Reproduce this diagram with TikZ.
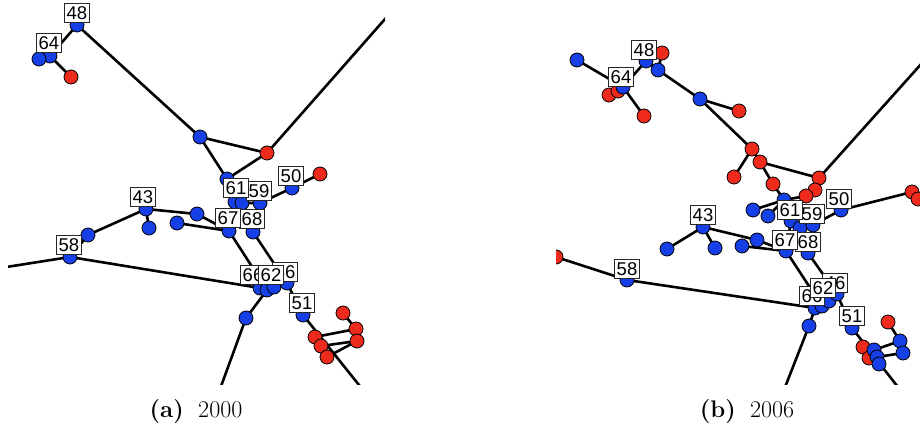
\documentclass[tikz,border=0pt]{standalone}
\usepackage{fontspec}
\newfontfamily\labelfont{Liberation Sans}
\definecolor{nodeblue}{RGB}{22,64,230}
\definecolor{nodered}{RGB}{238,42,28}

\begin{document}
\begin{tikzpicture}[x=1pt,y=-1pt,
		edge/.style={line width=2.6pt},
		bdot/.style={circle,draw=black,fill=nodeblue,line width=0.8pt,inner sep=0pt,minimum size=14pt},
		rdot/.style={bdot,fill=nodered},
		lbl/.style={draw=black!85,fill=white,line width=0.9pt,inner xsep=2.4pt,inner ysep=2.6pt,
			font=\labelfont\fontsize{18.5}{19}\selectfont},
		captext/.style={font=\fontsize{24}{28}\selectfont,anchor=base}]
	\useasboundingbox (0,0) rectangle (920,427);
	% panel (a), 2000
	\begin{scope}
		\clip (8,0) rectangle (385,384);
		% points
		\coordinate (a48) at (77,25);
		\coordinate (a64) at (50,56);
		\coordinate (a64b) at (39,59);
		\coordinate (a64r) at (71,77);
		\coordinate (aT) at (200,137);
		\coordinate (aTr) at (267,153);
		\coordinate (aNE) at (400,2);
		\coordinate (a61) at (227,179);
		\coordinate (a61b) at (235,202);
		\coordinate (a61c) at (242,203);
		\coordinate (a59) at (260,203);
		\coordinate (a50) at (292,188);
		\coordinate (a50r) at (320,174);
		\coordinate (a43) at (146,209);
		\coordinate (a43d) at (149,228);
		\coordinate (a43l) at (88,235);
		\coordinate (a43r) at (197,214);
		\coordinate (a67l) at (177,223);
		\coordinate (a67) at (229,231);
		\coordinate (a68) at (253,232);
		\coordinate (a58) at (70,257);
		\coordinate (aW) at (0,268);
		\coordinate (a66) at (260,288);
		\coordinate (a62) at (267,290);
		\coordinate (a62b) at (274,287);
		\coordinate (a46) at (287,283);
		\coordinate (a51) at (303,315);
		\coordinate (aS1) at (371,400);
		\coordinate (a62d) at (246,318);
		\coordinate (aS2) at (216,400);
		\coordinate (ar1) at (343,313);
		\coordinate (ar2) at (356,329);
		\coordinate (ar3) at (357,341);
		\coordinate (ar4) at (315,337);
		\coordinate (ar5) at (321,346);
		\coordinate (ar6) at (327,357);
		% links
		\draw[edge] (a48) -- (a64) -- (a64r);
		\draw[edge] (a64b) -- (a64);
		\draw[edge] (a48) -- (aT) -- (aTr) -- (aNE);
		\draw[edge] (aT) -- (a61) -- (aTr);
		\draw[edge] (a61) -- (a61b) -- (a67);
		\draw[edge] (a61) -- (a61c) -- (a68);
		\draw[edge] (a61c) -- (a59) -- (a50) -- (a50r);
		\draw[edge] (a43l) -- (a43) -- (a43d);
		\draw[edge] (a43) -- (a43r) -- (a67);
		\draw[edge] (a67l) -- (a67);
		\draw[edge] (aW) -- (a58) -- (a43l);
		\draw[edge] (a58) -- (a66);
		\draw[edge] (a67) -- (a62);
		\draw[edge] (a68) -- (a46) -- (a51) -- (aS1);
		\draw[edge] (a62) -- (a62d) -- (aS2);
		\draw[edge] (ar1) -- (ar2) -- (ar3);
		\draw[edge] (ar4) -- (ar2);
		\draw[edge] (ar5) -- (ar3) -- (ar6);
		% dots
		\foreach \p in {a48,a64,a64b,aT,a61,a61b,a61c,a59,a50,a43,a43d,a43l,a43r,a67l,a67,a68,a58,a66,a62,a62b,a46,a51,a62d}
			\node[bdot] (d\p) at (\p) {};
		\foreach \p in {a64r,aTr,a50r,ar1,ar2,ar3,ar4,ar5,ar6}
			\node[rdot] (d\p) at (\p) {};
	\end{scope}
	% labels (a)
	\node[lbl] (la48) at (77,13) {48};
	\node[lbl] (la64) at (49,43) {64};
	\node[lbl] (la50) at (291,176) {50};
	\node[lbl] (la59) at (259,191) {59};
	\node[lbl] (la61) at (236,188) {61};
	\node[lbl] (la43) at (143,197) {43};
	\node[lbl] (la68) at (252,219) {68};
	\node[lbl] (la67) at (228,218) {67};
	\node[lbl] (la58) at (69,245) {58};
	\node[lbl] (la66) at (253,275) {66};
	\node[lbl] (la46) at (285,272) {46};
	\node[lbl] (la62) at (271,275) {62};
	\node[lbl] (la51) at (302,303) {51};
	% panel (b), 2006
	\begin{scope}
		\clip (556,0) rectangle (920,384);
		% points
		\coordinate (b64l) at (577,60);
		\coordinate (b64) at (623,87);
		\coordinate (b64r1) at (618,91);
		\coordinate (b64r2) at (609,95);
		\coordinate (b64r3) at (644,116);
		\coordinate (b48) at (646,61);
		\coordinate (b48r) at (662,53);
		\coordinate (b48b) at (658,70);
		\coordinate (bA) at (700,99);
		\coordinate (bAr) at (739,111);
		\coordinate (bR1) at (752,149);
		\coordinate (bR1l) at (734,177);
		\coordinate (bR2) at (760,162);
		\coordinate (bR3) at (773,184);
		\coordinate (bR4) at (819,178);
		\coordinate (bR5) at (815,190);
		\coordinate (bR6) at (806,196);
		\coordinate (bNE) at (940,43);
		\coordinate (b61) at (784,200);
		\coordinate (b61l1) at (753,210);
		\coordinate (b61l2) at (768,216);
		\coordinate (b61b) at (791,221);
		\coordinate (b61c) at (800,228);
		\coordinate (b59) at (813,225);
		\coordinate (b50) at (841,210);
		\coordinate (b50r) at (912,192);
		\coordinate (b50r2) at (918,199);
		\coordinate (b43) at (703,227);
		\coordinate (b43l) at (667,249);
		\coordinate (b43d) at (715,248);
		\coordinate (b43r) at (757,240);
		\coordinate (b67l) at (742,246);
		\coordinate (b67) at (786,251);
		\coordinate (b68) at (808,253);
		\coordinate (bW) at (556,257);
		\coordinate (b58) at (627,280);
		\coordinate (b66) at (815,308);
		\coordinate (b62) at (822,306);
		\coordinate (b62b) at (829,301);
		\coordinate (b46) at (837,294);
		\coordinate (b51) at (852,328);
		\coordinate (bS1) at (908,400);
		\coordinate (b66d) at (809,326);
		\coordinate (bS2) at (780,400);
		\coordinate (bc0) at (888,322);
		\coordinate (bc1) at (863,347);
		\coordinate (bc2) at (874,350);
		\coordinate (bc3) at (869,358);
		\coordinate (bc4) at (877,357);
		\coordinate (bc5) at (879,364);
		\coordinate (bc6) at (900,341);
		\coordinate (bc7) at (903,353);
		% links
		\draw[edge] (b64l) -- (b64) -- (b64r3);
		\draw[edge] (b64r2) -- (b64);
		\draw[edge] (b64) -- (b48) -- (b48b) -- (bA) -- (bR1) -- (bR2) -- (bR3) -- (b61);
		\draw[edge] (b48r) -- (b48b);
		\draw[edge] (bA) -- (bAr);
		\draw[edge] (bR1) -- (bR1l);
		\draw[edge] (bR2) -- (bR4) -- (bNE);
		\draw[edge] (bR4) -- (bR5) -- (bR6) -- (b61);
		\draw[edge] (b61l1) -- (b61);
		\draw[edge] (b61l2) -- (b61);
		\draw[edge] (b61) -- (b61b) -- (b67);
		\draw[edge] (b61) -- (b61c) -- (b68);
		\draw[edge] (b61c) -- (b59) -- (b50) -- (b50r);
		\draw[edge] (b43l) -- (b43) -- (b43d);
		\draw[edge] (b43) -- (b43r) -- (b67);
		\draw[edge] (b67l) -- (b67);
		\draw[edge] (bW) -- (b58) -- (b66);
		\draw[edge] (b67) -- (b62);
		\draw[edge] (b68) -- (b46) -- (b51) -- (bS1);
		\draw[edge] (b66) -- (b66d) -- (bS2);
		\draw[edge] (bc0) -- (bc6) -- (bc7);
		\draw[edge] (bc2) -- (bc6);
		\draw[edge] (bc4) -- (bc7);
		% dots
		\foreach \p in {b64r2,b64r1,b64r3,b48r,bAr,bR1,bR1l,bR2,bR3,bR4,bR5,bR6,b50r,b50r2,bW,bc0,bc1,bc3}
			\node[rdot] (d\p) at (\p) {};
		\foreach \p in {b64l,b64,b48,b48b,bA,b61,b61l1,b61l2,b61b,b61c,b59,b50,b43,b43l,b43d,b43r,b67l,b67,b68,b58,b66,b62,b62b,b46,b51,b66d,bc2,bc4,bc5,bc6,bc7}
			\node[bdot] (d\p) at (\p) {};
	\end{scope}
	% labels (b)
	\node[lbl] (lb48) at (644,50) {48};
	\node[lbl] (lb64) at (621,77) {64};
	\node[lbl] (lb50) at (839,199) {50};
	\node[lbl] (lb59) at (812,214) {59};
	\node[lbl] (lb61) at (790,210) {61};
	\node[lbl] (lb43) at (703,215) {43};
	\node[lbl] (lb68) at (808,242) {68};
	\node[lbl] (lb67) at (785,240) {67};
	\node[lbl] (lb58) at (627,269) {58};
	\node[lbl] (lb66) at (812,296) {66};
	\node[lbl] (lb46) at (835,283) {46};
	\node[lbl] (lb62) at (823,288) {62};
	\node[lbl] (lb51) at (852,316) {51};
	% captions
	\node[captext] (capa) at (196,417) {\textbf{(a)}\hspace{0.6em}2000};
	\node[captext] (capb) at (747,417) {\textbf{(b)}\hspace{0.6em}2006};
\end{tikzpicture}
\end{document}
